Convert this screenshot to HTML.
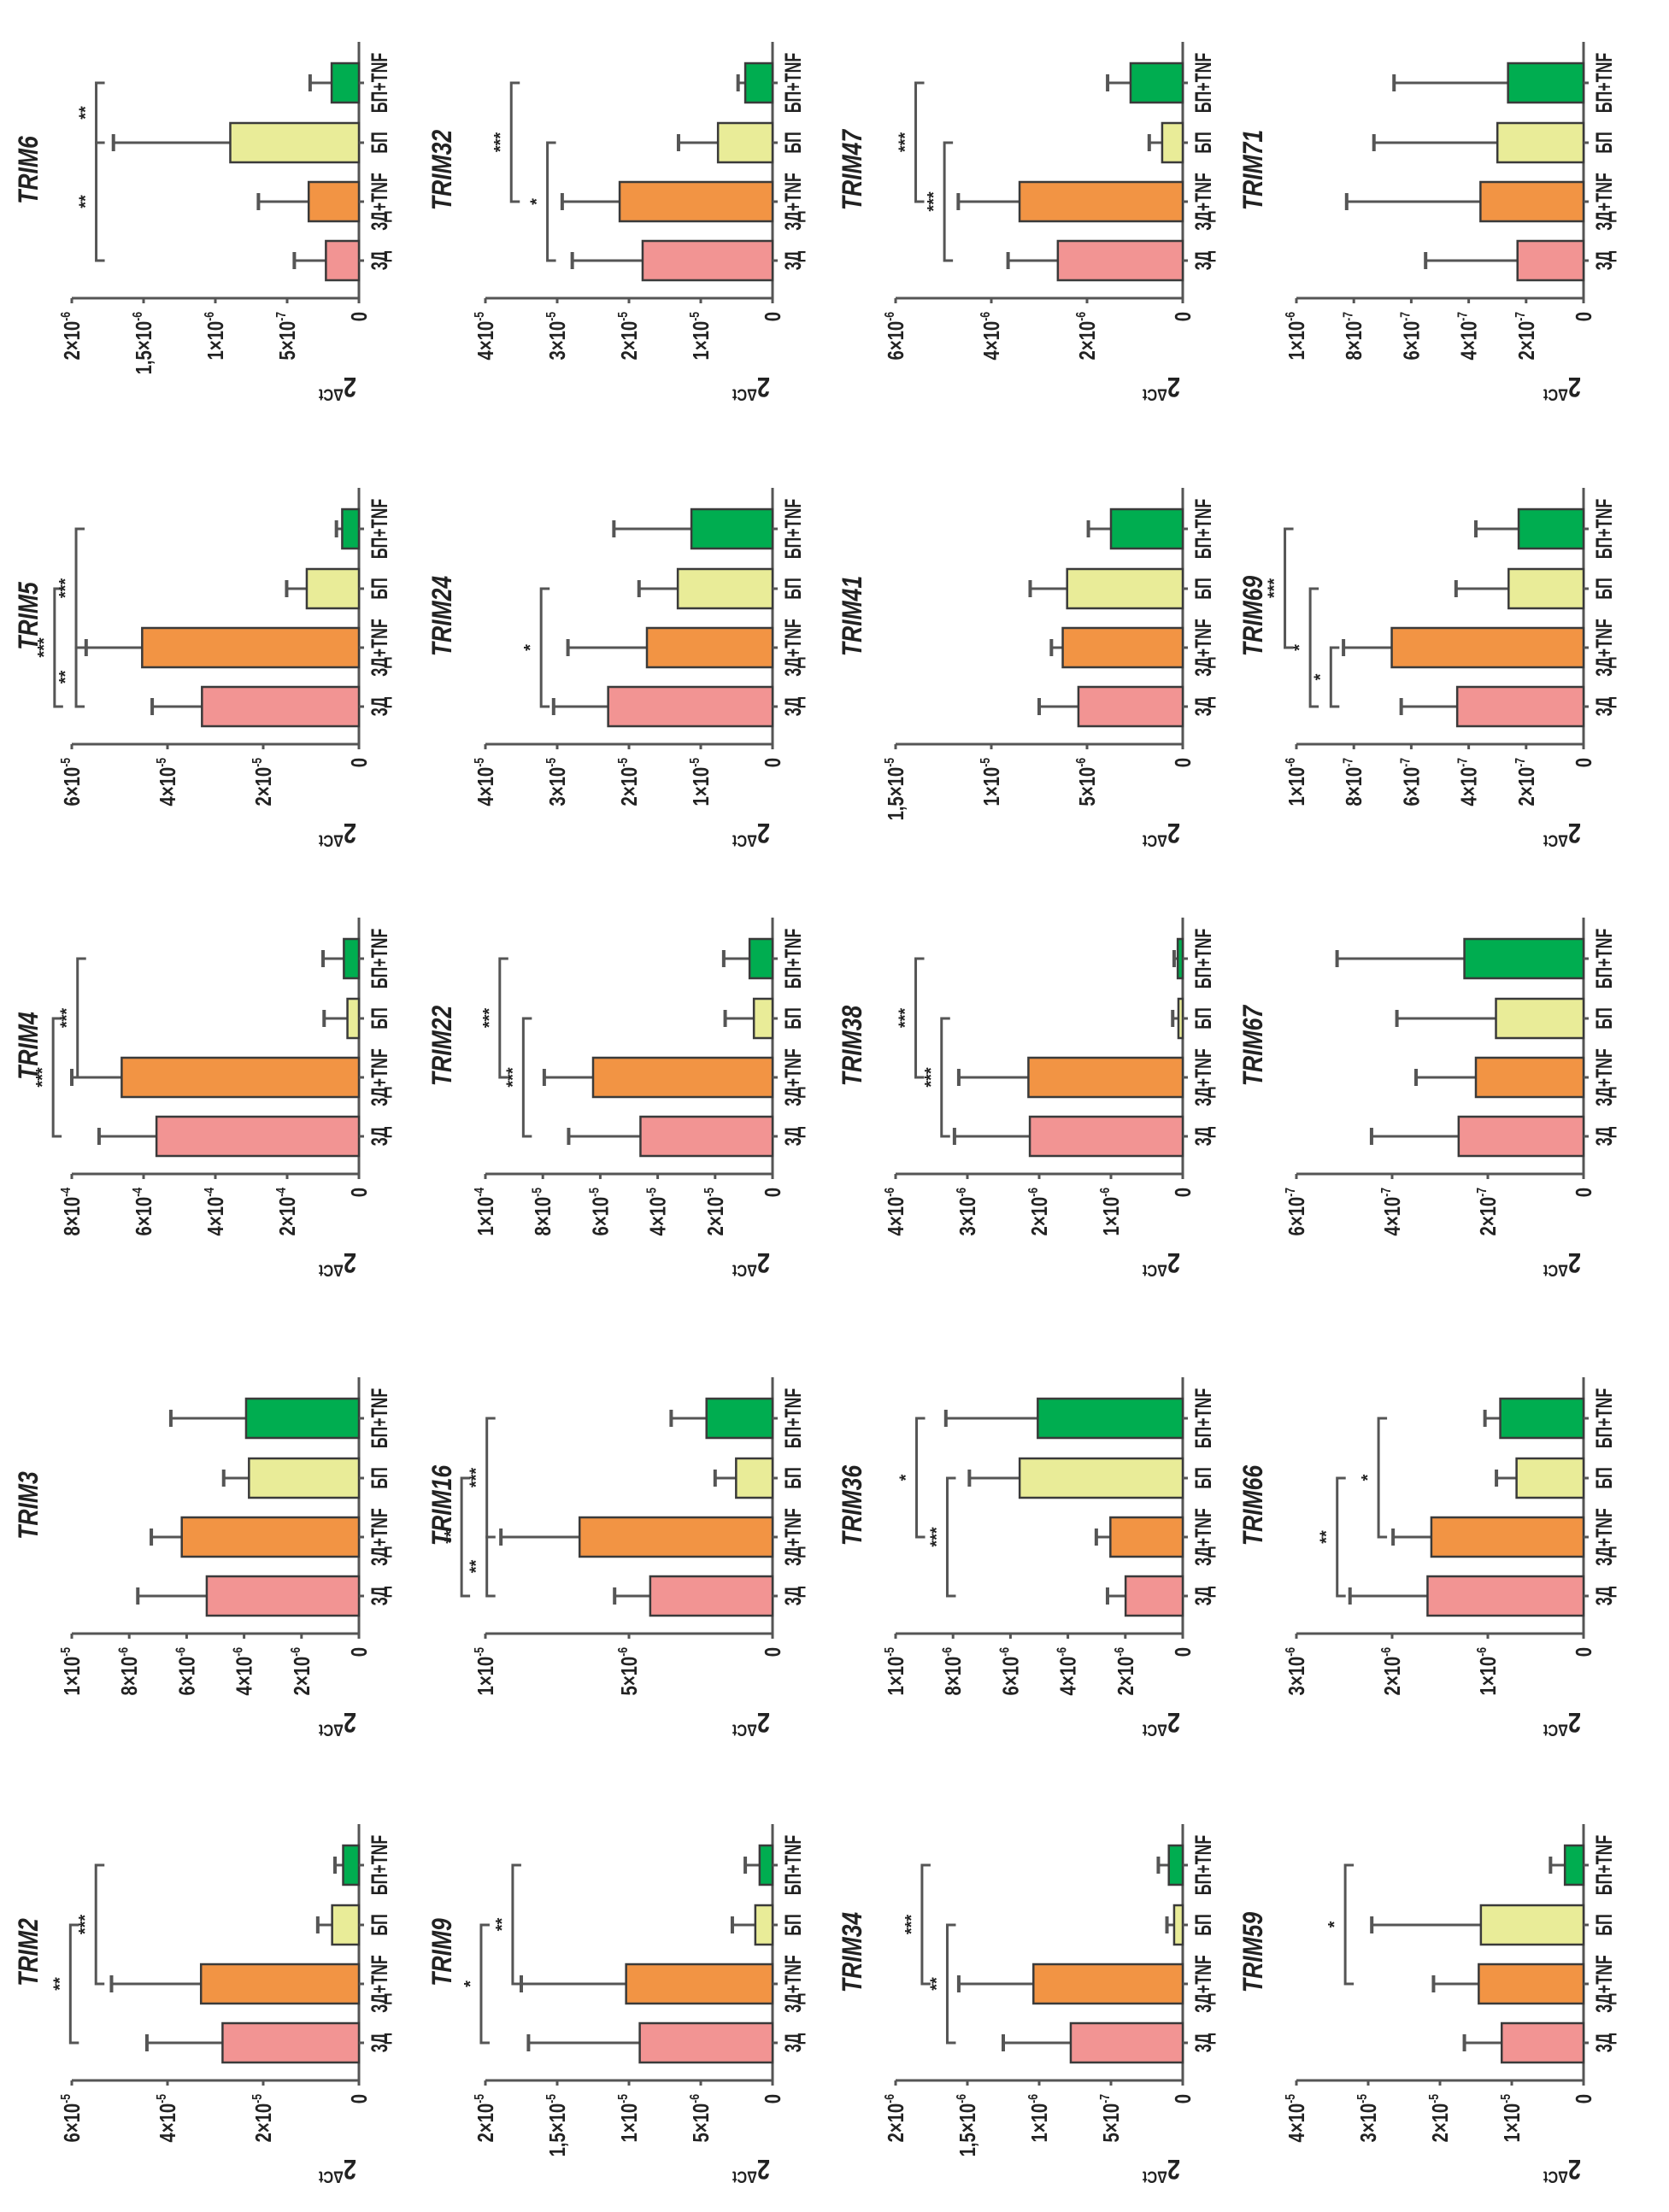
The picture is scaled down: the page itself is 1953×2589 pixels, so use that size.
<!DOCTYPE html>
<html><head><meta charset="utf-8">
<style>
html,body{margin:0;padding:0;background:#fff;}
svg{display:block;}
text{font-family:"Liberation Sans","DejaVu Sans",sans-serif;font-weight:bold;fill:#222;}
</style></head>
<body>
<svg id="fig" width="1953" height="2589" viewBox="0 0 1953 2589" xmlns="http://www.w3.org/2000/svg"></svg>
<script>
// ---- data ----
const categories = ["3Д","3Д+TNF","БП","БП+TNF"];
const barColors = ["#f29493","#f29444","#e9ec98","#00ad50"];
const genes = [
 "TRIM6","TRIM32","TRIM47","TRIM71",
 "TRIM5","TRIM24","TRIM41","TRIM69",
 "TRIM4","TRIM22","TRIM38","TRIM67",
 "TRIM3","TRIM16","TRIM36","TRIM66",
 "TRIM2","TRIM9","TRIM34","TRIM59"];
const means = [
 [2.3e-7,3.5e-7,8.96e-7,1.9e-7],
 [1.81e-5,2.13e-5,0.76e-5,0.38e-5],
 [2.61e-6,3.41e-6,0.43e-6,1.09e-6],
 [2.3e-7,3.59e-7,3.0e-7,2.63e-7],
 [3.28e-5,4.53e-5,1.09e-5,0.35e-5],
 [2.29e-5,1.75e-5,1.32e-5,1.13e-5],
 [5.45e-6,6.27e-6,6.04e-6,3.75e-6],
 [4.4e-7,6.68e-7,2.61e-7,2.26e-7],
 [5.64e-4,6.61e-4,0.32e-4,0.42e-4],
 [4.6e-5,6.25e-5,0.65e-5,0.8e-5],
 [2.13e-6,2.15e-6,0.06e-6,0.07e-6],
 [2.61e-7,2.25e-7,1.83e-7,2.49e-7],
 [5.3e-6,6.17e-6,3.83e-6,3.93e-6],
 [4.26e-6,6.72e-6,1.27e-6,2.3e-6],
 [1.99e-6,2.52e-6,5.68e-6,5.05e-6],
 [1.63e-6,1.59e-6,0.7e-6,0.87e-6],
 [2.85e-5,3.3e-5,0.56e-5,0.33e-5],
 [9.25e-6,1.02e-5,1.2e-6,0.9e-6],
 [7.8e-7,1.04e-6,0.6e-7,0.97e-7],
 [1.14e-5,1.46e-5,1.43e-5,0.26e-5]];
const errTops = [
 [4.5e-7,7e-7,1.71e-6,3.4e-7],
 [2.79e-5,2.93e-5,1.31e-5,0.48e-5],
 [3.65e-6,4.69e-6,0.7e-6,1.57e-6],
 [5.5e-7,8.25e-7,7.3e-7,6.6e-7],
 [4.32e-5,5.7e-5,1.51e-5,0.47e-5],
 [3.05e-5,2.85e-5,1.86e-5,2.21e-5],
 [7.5e-6,6.86e-6,7.97e-6,4.93e-6],
 [6.35e-7,8.36e-7,4.44e-7,3.75e-7],
 [7.24e-4,8e-4,0.97e-4,1.0e-4],
 [7.1e-5,7.95e-5,1.65e-5,1.7e-5],
 [3.18e-6,3.12e-6,0.14e-6,0.12e-6],
 [4.43e-7,3.5e-7,3.9e-7,5.15e-7],
 [7.7e-6,7.23e-6,4.71e-6,6.55e-6],
 [5.5e-6,9.46e-6,2e-6,3.53e-6],
 [2.62e-6,3.01e-6,7.43e-6,8.25e-6],
 [2.44e-6,1.99e-6,0.91e-6,1.03e-6],
 [4.43e-5,5.17e-5,0.86e-5,0.5e-5],
 [1.7e-5,1.75e-5,2.8e-6,1.9e-6],
 [1.25e-6,1.56e-6,1.1e-7,1.7e-7],
 [1.66e-5,2.09e-5,2.95e-5,0.46e-5]];
const tickValues = [
 [0,5e-7,1e-6,1.5e-6,2e-6],
 [0,1e-5,2e-5,3e-5,4e-5],
 [0,2e-6,4e-6,6e-6],
 [0,2e-7,4e-7,6e-7,8e-7,1e-6],
 [0,2e-5,4e-5,6e-5],
 [0,1e-5,2e-5,3e-5,4e-5],
 [0,5e-6,1e-5,1.5e-5],
 [0,2e-7,4e-7,6e-7,8e-7,1e-6],
 [0,2e-4,4e-4,6e-4,8e-4],
 [0,2e-5,4e-5,6e-5,8e-5,1e-4],
 [0,1e-6,2e-6,3e-6,4e-6],
 [0,2e-7,4e-7,6e-7],
 [0,2e-6,4e-6,6e-6,8e-6,1e-5],
 [0,5e-6,1e-5],
 [0,2e-6,4e-6,6e-6,8e-6,1e-5],
 [0,1e-6,2e-6,3e-6],
 [0,2e-5,4e-5,6e-5],
 [0,5e-6,1e-5,1.5e-5,2e-5],
 [0,5e-7,1e-6,1.5e-6,2e-6],
 [0,1e-5,2e-5,3e-5,4e-5]];
const tickLabels = [
 ["0","5×10|-7","1×10|-6","1,5×10|-6","2×10|-6"],
 ["0","1×10|-5","2×10|-5","3×10|-5","4×10|-5"],
 ["0","2×10|-6","4×10|-6","6×10|-6"],
 ["0","2×10|-7","4×10|-7","6×10|-7","8×10|-7","1×10|-6"],
 ["0","2×10|-5","4×10|-5","6×10|-5"],
 ["0","1×10|-5","2×10|-5","3×10|-5","4×10|-5"],
 ["0","5×10|-6","1×10|-5","1,5×10|-5"],
 ["0","2×10|-7","4×10|-7","6×10|-7","8×10|-7","1×10|-6"],
 ["0","2×10|-4","4×10|-4","6×10|-4","8×10|-4"],
 ["0","2×10|-5","4×10|-5","6×10|-5","8×10|-5","1×10|-4"],
 ["0","1×10|-6","2×10|-6","3×10|-6","4×10|-6"],
 ["0","2×10|-7","4×10|-7","6×10|-7"],
 ["0","2×10|-6","4×10|-6","6×10|-6","8×10|-6","1×10|-5"],
 ["0","5×10|-6","1×10|-5"],
 ["0","2×10|-6","4×10|-6","6×10|-6","8×10|-6","1×10|-5"],
 ["0","1×10|-6","2×10|-6","3×10|-6"],
 ["0","2×10|-5","4×10|-5","6×10|-5"],
 ["0","5×10|-6","1×10|-5","1,5×10|-5","2×10|-5"],
 ["0","5×10|-7","1×10|-6","1,5×10|-6","2×10|-6"],
 ["0","1×10|-5","2×10|-5","3×10|-5","4×10|-5"]];
// brackets: [from, to, stars, level as fraction of axis max]
const brackets = [
 [[0,2,"**",0.915],[2,3,"**",0.915]],
 [[0,2,"*",0.784],[1,3,"***",0.91]],
 [[0,2,"***",0.83],[1,3,"***",0.93]],
 [],
 [[0,2,"***",1.06],[0,1,"**",0.985],[1,3,"***",0.985]],
 [[0,2,"*",0.806]],
 [],
 [[0,1,"*",0.88],[0,2,"*",0.952],[1,3,"***",1.04]],
 [[0,2,"***",1.065],[1,3,"***",0.98]],
 [[0,2,"***",0.868],[1,3,"***",0.95]],
 [[0,2,"***",0.84],[1,3,"***",0.93]],
 [],
 [],
 [[0,2,"**",1.083],[0,1,"**",0.995],[1,3,"***",0.995]],
 [[0,2,"***",0.82],[1,3,"*",0.927]],
 [[0,2,"**",0.858],[1,3,"*",0.714]],
 [[0,2,"**",1.005],[1,3,"***",0.916]],
 [[0,2,"*",1.015],[1,3,"**",0.905]],
 [[0,2,"**",0.82],[1,3,"***",0.908]],
 [[1,3,"*",0.83]]];

// ---- layout (screen pixels) ----
const colZero = [420, 904, 1384, 1853];
const rowAxis = [349, 871, 1374, 1912, 2435];
const axisLen = 336;
const barOffsets = [44, 113, 182, 252];
const barHalf = 23;
const NS = "http://www.w3.org/2000/svg";
const svg = document.getElementById("fig");

function mk(tag, attrs, parent){
  const el = document.createElementNS(NS, tag);
  for (const k in attrs) el.setAttribute(k, attrs[k]);
  parent.appendChild(el);
  return el;
}
function rotText(parent, x, y, str, size, anchor, rot, sx, italic){
  const t = mk("text", {transform:`translate(${x},${y}) rotate(${rot}) scale(${sx},1)`, "text-anchor":anchor, "font-size":size}, parent);
  if (italic) t.setAttribute("font-style","italic");
  const parts = str.split("|");
  t.appendChild(document.createTextNode(parts[0]));
  if (parts.length > 1){
    const sp = mk("tspan", {dy:-size*0.42, "font-size":size*0.6}, t);
    sp.textContent = parts[1];
  }
  return t;
}

genes.forEach((gene, p) => {
  const r = Math.floor(p/4), c = p%4;
  const zx = colZero[c], A = rowAxis[r];
  const vmax = tickValues[p][tickValues[p].length-1];
  const xs = v => zx - v/vmax*axisLen;
  const g = mk("g", {}, svg);
  
  

  // title
  const tt = rotText(g, zx-376, A-150, gene, 32, "middle", -90, 0.83, true);
  
  

  // value axis
  const va = mk("line", {x1:zx, y1:A, x2:xs(vmax), y2:A, stroke:"#555", "stroke-width":3}, g);
  
  
  tickValues[p].forEach((tv, i) => {
    const tx = xs(tv);
    const tk = mk("line", {x1:tx, y1:A, x2:tx, y2:A+6, stroke:"#555", "stroke-width":3}, g);
    
    
    const tl = rotText(g, tx+9, A+16, tickLabels[p][i], 26, "end", -90, 0.78, false);
    
    
  });
  // y-axis title 2^ΔCt (upside down)
  const yt = rotText(g, zx-25, A+93, "2|ΔCt", 32, "middle", 180, 0.85, false);
  
  

  // category axis
  const ca = mk("line", {x1:zx, y1:A+4, x2:zx, y2:A-300, stroke:"#555", "stroke-width":3}, g);
  
  

  categories.forEach((cat, i) => {
    const cy = A - barOffsets[i];
    const v = means[p][i], e = errTops[p][i];
    // error bar
    const el = mk("line", {x1:xs(v), y1:cy, x2:xs(e), y2:cy, stroke:"#555", "stroke-width":3}, g);
    
    
    const ec = mk("line", {x1:xs(e), y1:cy-10, x2:xs(e), y2:cy+10, stroke:"#555", "stroke-width":4}, g);
    
    
    const b = mk("rect", {x:xs(v), y:cy-barHalf, width:zx-xs(v), height:barHalf*2, fill:barColors[i], stroke:"#3a3a3a", "stroke-width":2.5}, g);
    
    
    const ctk = mk("line", {x1:zx, y1:cy, x2:zx+6, y2:cy, stroke:"#555", "stroke-width":3}, g);
    
    
    const cl = rotText(g, zx+33, cy, cat, 27, "middle", -90, 0.66, false);
    
    
  });

  // significance brackets
  brackets[p].forEach(br => {
    const [i, j, stars, f] = br;
    const bx = zx - f*axisLen;
    const y1 = A - barOffsets[i], y2 = A - barOffsets[j];
    const path = mk("path", {d:`M${bx+10},${y1} H${bx} V${y2} H${bx+10}`, fill:"none", stroke:"#555", "stroke-width":3}, g);
    
    
    const st = rotText(g, bx-6, (y1+y2)/2, stars, 20, "middle", -90, 1, false);
    
    
  });
});
</script>
</body></html>
